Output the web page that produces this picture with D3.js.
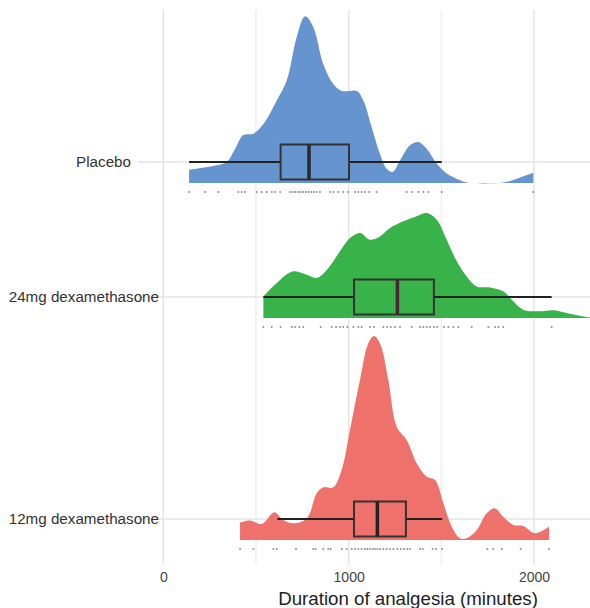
<!DOCTYPE html>
<html>
<head>
<meta charset="utf-8">
<script src="https://cdn.jsdelivr.net/npm/d3@7"></script>
<style>
  body { margin: 0; background: #fff; }
  svg { display: block; font-family: "Liberation Sans", Arial, sans-serif; }
</style>
</head>
<body>
<div id="container"></div>
<script>
// groups, top to bottom
const groups = ["Placebo", "24mg dexamethasone", "12mg dexamethasone"];
const colors = ["#6694cf", "#38b349", "#ee716b"];
const medianColors = ["#2a2a2a", "#4a2336", "#222222"];

// box stats: [lower whisker, q1, median, q3, upper whisker]
const placeboBox = [139, 633, 786, 1002, 1502];
const dex24Box = [540, 1029, 1263, 1460, 2095];
const dex12Box = [615, 1029, 1155, 1309, 1505];

// density curves (minutes, relative density)
const placeboDensX = [139, 288, 342, 387, 432, 486, 540, 612, 666, 720, 765, 809, 863, 917, 963, 1044, 1079, 1124, 1169, 1205, 1238, 1277, 1331, 1376, 1421, 1475, 1529, 1601, 1637, 1834, 1907, 1996];
const placeboDensY = [.065, .087, .103, .167, .235, .242, .289, .405, .503, .716, .817, .765, .583, .485, .451, .451, .405, .275, .142, .070, .054, .111, .185, .201, .168, .095, .046, .013, .002, .002, .021, .050];

const dex24DensX = [540, 612, 701, 774, 828, 882, 953, 1007, 1061, 1115, 1169, 1223, 1295, 1367, 1421, 1475, 1529, 1583, 1637, 1691, 1763, 1834, 1888, 1942, 2032, 2104, 2194, 2302, 2400];
const dex24DensY = [.106, .172, .229, .212, .196, .235, .327, .392, .417, .384, .400, .441, .474, .499, .515, .482, .384, .278, .204, .155, .150, .131, .082, .041, .033, .038, .021, .003, 0];

const dex12DensX = [414, 468, 531, 599, 647, 701, 774, 828, 864, 917, 962, 1007, 1061, 1106, 1137, 1169, 1214, 1259, 1313, 1367, 1421, 1466, 1511, 1556, 1601, 1637, 1691, 1745, 1790, 1834, 1888, 1942, 2005, 2081];
const dex12DensY = [.085, .095, .078, .136, .098, .082, .106, .229, .258, .258, .343, .539, .784, .964, 1, .964, .784, .555, .490, .376, .310, .294, .180, .065, .008, .008, .049, .131, .155, .114, .074, .069, .033, .065];

// raw observations (rain)
const placeboPts = [139, 225, 297, 405, 423, 441, 504, 531, 558, 585, 603, 630, 684, 698, 712, 727, 741, 755, 770, 784, 799, 813, 827, 845, 899, 917, 944, 971, 998, 1034, 1052, 1070, 1088, 1111, 1151, 1313, 1340, 1376, 1403, 1430, 1502, 1996];
const dex24Pts = [540, 585, 633, 693, 711, 734, 755, 849, 909, 932, 953, 971, 993, 1025, 1052, 1070, 1115, 1137, 1187, 1208, 1227, 1250, 1277, 1340, 1385, 1403, 1421, 1439, 1460, 1478, 1514, 1538, 1565, 1592, 1664, 1754, 1790, 1808, 1834, 2095];
const dex12Pts = [414, 486, 594, 612, 716, 809, 822, 863, 890, 903, 963, 989, 1016, 1034, 1052, 1070, 1088, 1101, 1115, 1130, 1142, 1155, 1169, 1187, 1205, 1223, 1241, 1263, 1281, 1299, 1317, 1331, 1385, 1400, 1453, 1471, 1505, 1748, 1780, 1826, 1928, 2081];

// x axis ticks
const majorTicks = [0, 1000, 2000];
const minorTicks = [500, 1500];

const boxes = [placeboBox, dex24Box, dex12Box];
const densX = [placeboDensX, dex24DensX, dex12DensX];
const densY = [placeboDensY, dex24DensY, dex12DensY];
const pts = [placeboPts, dex24Pts, dex12Pts];

drawSvg();

function drawSvg() {
  const w = 590;
  const h = 608;

  const panelTop = 10;
  const panelBottom = 565;
  const panelRight = 678;   // panel runs past the picture edge, gets cut

  const xScale = d3.scaleLinear()
    .domain([0, 2000])
    .range([163.3, 534]);
  const panelLeft = xScale(-136);

  // category rows are not evenly spaced in the original
  const yScale = d3.scaleOrdinal()
    .domain(groups)
    .range([162, 297, 519]);

  const hScale = d3.scaleLinear()
    .domain([0, 1])
    .range([0, 204]);

  const baseOff = 21;   // density baseline below the row line
  const rainOff = 30;   // dots below the row line
  const boxHalf = 17.5;

  const svg = d3.select("div#container")
    .append("svg")
    .attr("width", w)
    .attr("height", h);

  // grid
  const grid = svg.append("g").attr("class", "grid");
  grid.selectAll("line.minor")
    .data(minorTicks)
    .enter()
    .append("line")
    .attr("class", "minor")
    .attr("x1", d => xScale(d)).attr("x2", d => xScale(d))
    .attr("y1", panelTop).attr("y2", panelBottom)
    .attr("stroke", "#ebebeb")
    .attr("stroke-width", 1.2);
  grid.selectAll("line.major")
    .data(majorTicks)
    .enter()
    .append("line")
    .attr("class", "major")
    .attr("x1", d => xScale(d)).attr("x2", d => xScale(d))
    .attr("y1", panelTop).attr("y2", panelBottom)
    .attr("stroke", "#e4e4e4")
    .attr("stroke-width", 1.5);
  grid.selectAll("line.row")
    .data(groups)
    .enter()
    .append("line")
    .attr("class", "row")
    .attr("x1", panelLeft).attr("x2", panelRight)
    .attr("y1", d => yScale(d)).attr("y2", d => yScale(d))
    .attr("stroke", "#e4e4e4")
    .attr("stroke-width", 1.5);

  // clouds
  const area = d3.area()
    .curve(d3.curveCatmullRom.alpha(0.5));

  groups.forEach((g, i) => {
    const base = yScale(g) + baseOff;
    const dens = densX[i].map((v, j) => [v, densY[i][j]]);
    svg.append("path")
      .datum(dens)
      .attr("fill", colors[i])
      .attr("d", area
        .x(d => xScale(d[0]))
        .y0(base)
        .y1(d => base - hScale(d[1])));
  });

  // rain
  groups.forEach((g, i) => {
    svg.append("g")
      .selectAll("circle")
      .data(pts[i])
      .enter()
      .append("circle")
      .attr("cx", d => xScale(d))
      .attr("cy", yScale(g) + rainOff)
      .attr("r", 1)
      .attr("fill", "#555")
      .attr("opacity", 0.65);
  });

  // boxplots
  groups.forEach((g, i) => {
    const b = boxes[i];
    const cy = yScale(g);
    const bx = svg.append("g").attr("class", "box");
    bx.append("line")
      .attr("x1", xScale(b[0])).attr("x2", xScale(b[1]))
      .attr("y1", cy).attr("y2", cy)
      .attr("stroke", "#222").attr("stroke-width", 2);
    bx.append("line")
      .attr("x1", xScale(b[3])).attr("x2", xScale(b[4]))
      .attr("y1", cy).attr("y2", cy)
      .attr("stroke", "#222").attr("stroke-width", 2);
    bx.append("rect")
      .attr("x", xScale(b[1]))
      .attr("y", cy - boxHalf)
      .attr("width", xScale(b[3]) - xScale(b[1]))
      .attr("height", boxHalf * 2)
      .attr("fill", colors[i])
      .attr("stroke", "#333")
      .attr("stroke-width", 2);
    bx.append("line")
      .attr("x1", xScale(b[2])).attr("x2", xScale(b[2]))
      .attr("y1", cy - boxHalf).attr("y2", cy + boxHalf)
      .attr("stroke", medianColors[i]).attr("stroke-width", 3.5);
  });

  // x axis labels
  const xAxis = d3.axisBottom(xScale)
    .tickValues(majorTicks)
    .tickSize(0)
    .tickPadding(0)
    .tickFormat(d3.format("d"));
  const gx = svg.append("g")
    .attr("id", "x-axis")
    .attr("transform", "translate(0," + (panelBottom + 7) + ")")
    .call(xAxis);
  gx.select(".domain").remove();
  gx.selectAll("text")
    .attr("fill", "#444")
    .style("font-size", "14px");

  // y axis labels (Placebo sits a bit further left in the original)
  svg.append("g")
    .attr("id", "y-axis")
    .selectAll("text")
    .data(groups)
    .enter()
    .append("text")
    .attr("x", d => d === "Placebo" ? 131 : 159)
    .attr("y", d => yScale(d))
    .attr("dy", "0.35em")
    .attr("text-anchor", "end")
    .attr("fill", "#333")
    .style("font-size", "15.2px")
    .text(d => d);

  // axis title
  svg.append("text")
    .attr("x", (panelLeft + panelRight) / 2)
    .attr("y", 605)
    .attr("text-anchor", "middle")
    .attr("fill", "#222")
    .style("font-size", "18.7px")
    .text("Duration of analgesia (minutes)");
}
</script>
</body>
</html>
